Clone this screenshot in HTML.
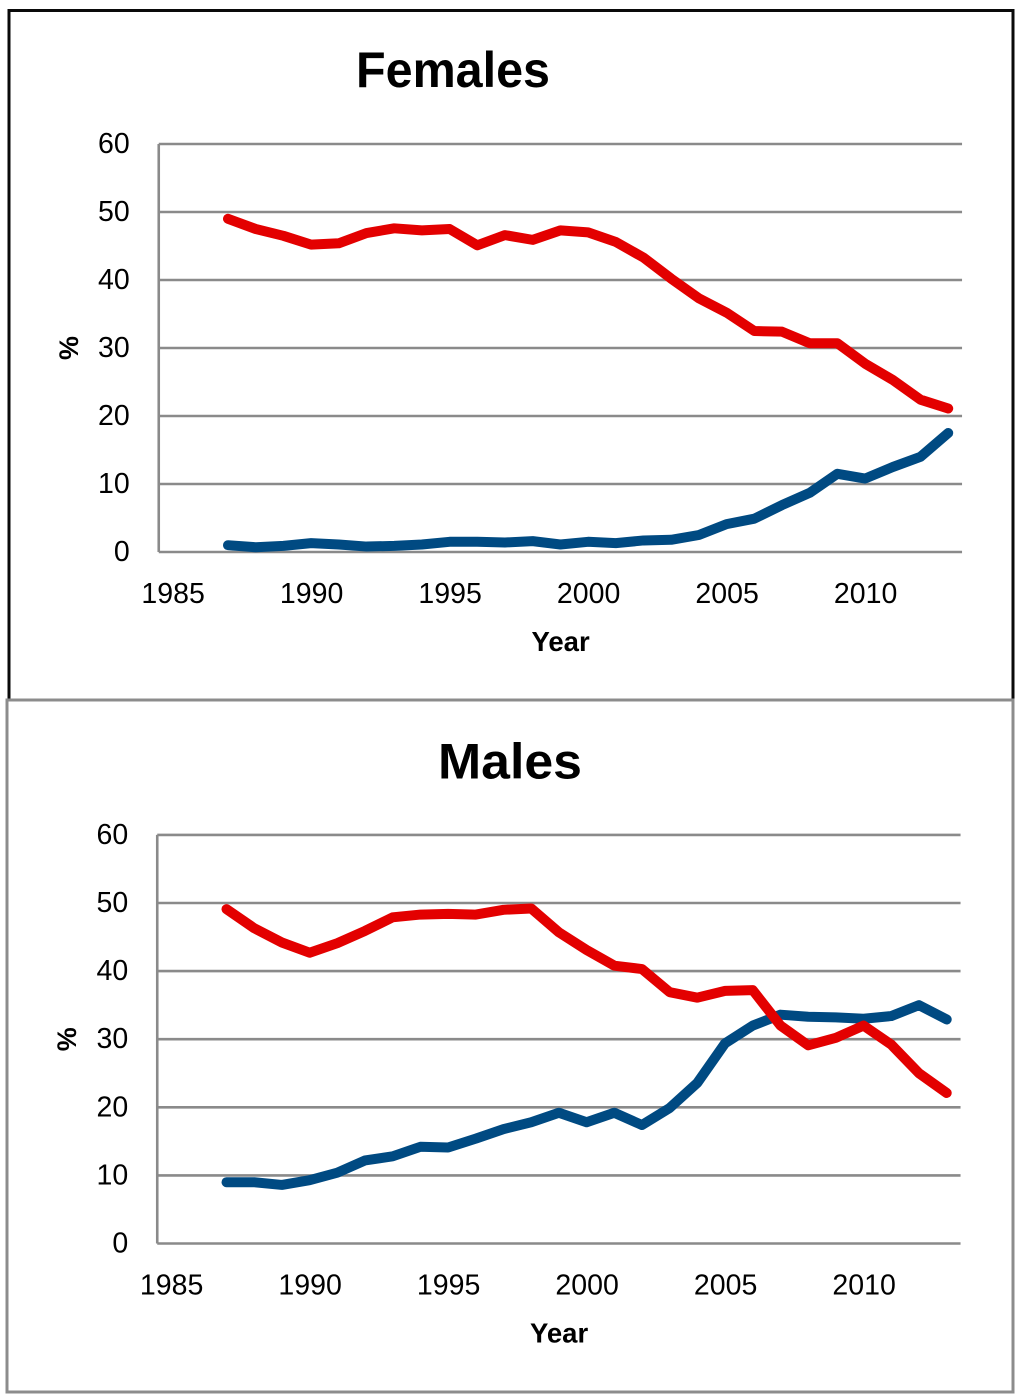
<!DOCTYPE html>
<html lang="en">
<head>
<meta charset="utf-8">
<title>Females and Males trends, 1987–2013</title>
<style>
html,body{margin:0;padding:0;background:#fff;}
svg{display:block;}
text{font-family:"Liberation Sans",sans-serif;fill:#000;}
</style>
</head>
<body>
<svg id="figure" xmlns="http://www.w3.org/2000/svg" width="1024" height="1399" viewBox="0 0 1024 1399">
  <rect x="0" y="0" width="1024" height="1399" fill="#fff"/>
  <rect x="9" y="10.5" width="1004" height="700" fill="none" stroke="#0a0a0a" stroke-width="3"/>
  <rect x="7" y="700" width="1006" height="692" fill="#fff" stroke="#8c8c8c" stroke-width="3"/>
  <g id="females-chart"></g>
  <g id="males-chart"></g>
</svg>
<script>
const years = [1987,1988,1989,1990,1991,1992,1993,1994,1995,1996,1997,1998,1999,2000,2001,2002,2003,2004,2005,2006,2007,2008,2009,2010,2011,2012,2013];
const xTickLabels = [1985,1990,1995,2000,2005,2010];
const yTickLabels = [0,10,20,30,40,50,60];
const femalesRed = [49,47.5,46.5,45.2,45.4,46.9,47.6,47.3,47.5,45.1,46.6,45.9,47.3,47,45.6,43.3,40.2,37.3,35.2,32.5,32.4,30.7,30.7,27.7,25.3,22.4,21.1];
const femalesBlue = [1,0.7,0.9,1.3,1.1,0.8,0.9,1.1,1.5,1.5,1.4,1.6,1.1,1.5,1.3,1.7,1.8,2.5,4.1,4.9,6.9,8.7,11.5,10.8,12.5,14,17.5];
const malesRed = [49.1,46.3,44.2,42.7,44.1,45.9,47.9,48.3,48.4,48.3,49,49.2,45.7,43.1,40.8,40.3,36.9,36.1,37.1,37.2,32,29.1,30.2,32,29.2,25,22.1];
const malesBlue = [9,9,8.6,9.3,10.4,12.2,12.8,14.2,14.1,15.4,16.8,17.8,19.2,17.8,19.2,17.4,19.9,23.6,29.4,32,33.6,33.3,33.2,33,33.4,35,32.9];

const NS = 'http://www.w3.org/2000/svg';

function makeText(parent, str, x, y, size, weight, anchor) {
  const t = document.createElementNS(NS, 'text');
  t.setAttribute('x', x);
  t.setAttribute('y', y);
  t.setAttribute('font-size', size);
  t.setAttribute('font-weight', weight);
  t.setAttribute('text-anchor', anchor);
  t.textContent = str;
  parent.appendChild(t);
  return t;
}

function makeLine(parent, x1, y1, x2, y2) {
  const l = document.createElementNS(NS, 'line');
  l.setAttribute('x1', x1);
  l.setAttribute('y1', y1);
  l.setAttribute('x2', x2);
  l.setAttribute('y2', y2);
  l.setAttribute('stroke', '#8a8a8a');
  l.setAttribute('stroke-width', 2.6);
  parent.appendChild(l);
  return l;
}

function makeSeries(parent, xScale, yScale, values, color) {
  const p = document.createElementNS(NS, 'polyline');
  p.setAttribute('points', values.map((v, i) => xScale(years[i]).toFixed(2) + ',' + yScale(v).toFixed(2)).join(' '));
  p.setAttribute('fill', 'none');
  p.setAttribute('stroke', color);
  p.setAttribute('stroke-width', 10);
  p.setAttribute('stroke-linecap', 'round');
  p.setAttribute('stroke-linejoin', 'round');
  parent.appendChild(p);
  return p;
}

function drawChart(root, cfg) {
  const xScale = yr => cfg.x1987 + (yr - 1987) * cfg.xStep;
  const yScale = v => cfg.y0 - v * cfg.yStep;
  const plotLeft = xScale(1984.5);
  const plotRight = xScale(2013.5);

  yTickLabels.forEach(v => {
    const grid = makeLine(root, plotLeft, yScale(v), plotRight, yScale(v));
    
    
    const lab = makeText(root, String(v), plotLeft - 29, yScale(v) + 9, 28.5, 'normal', 'end');
    
    
  });

  const yAxis = makeLine(root, plotLeft, yScale(60), plotLeft, yScale(0));
  
  

  xTickLabels.forEach(yr => {
    const lab = makeText(root, String(yr), xScale(yr) + 0.5, cfg.y0 + 51, 28.5, 'normal', 'middle');
    
    
  });

  const title = makeText(root, cfg.title, cfg.titleX, cfg.y0 - 465, 50, 'bold', 'middle');
  title.setAttribute('textLength', cfg.titleWidth);
  title.setAttribute('lengthAdjust', 'spacingAndGlyphs');
  
  

  const xTitle = makeText(root, 'Year', xScale(2000) - 27.5, cfg.y0 + 99, 27.5, 'bold', 'middle');
  
  

  const yTitleX = plotLeft - 81;
  const yTitleY = yScale(30);
  const yTitle = makeText(root, '%', yTitleX, yTitleY, 27, 'bold', 'middle');
  yTitle.setAttribute('transform', 'rotate(-90 ' + yTitleX + ' ' + yTitleY + ')');
  
  

  const blue = makeSeries(root, xScale, yScale, cfg.blue, '#004a82');
  
  

  const red = makeSeries(root, xScale, yScale, cfg.red, '#e30000');
  
  
}

drawChart(document.getElementById('females-chart'), {
  title: 'Females', titleX: 453, titleWidth: 194,
  x1987: 228, xStep: 27.7, y0: 552, yStep: 6.8,
  red: femalesRed, blue: femalesBlue
});

drawChart(document.getElementById('males-chart'), {
  title: 'Males', titleX: 510, titleWidth: 144,
  x1987: 226.5, xStep: 27.7, y0: 1243.5, yStep: 6.81,
  red: malesRed, blue: malesBlue
});
</script>
</body>
</html>
